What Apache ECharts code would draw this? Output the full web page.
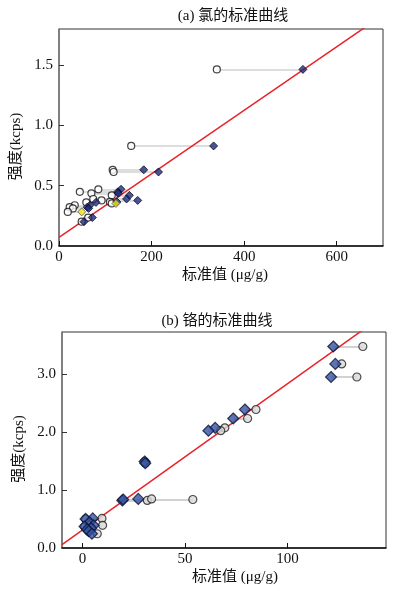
<!DOCTYPE html>
<html>
<head>
<meta charset="utf-8">
<script src="https://cdn.jsdelivr.net/npm/echarts@6.0.0/dist/echarts.min.js"></script>
<style>
  html, body { margin: 0; background: #fff; }
  #chart { width: 396px; height: 597px; }
</style>
</head>
<body>
<div id="chart"></div>
<script>
// (a) chlorine: standard value (circle) -> measured value (diamond), same intensity
const stdA = [341, 156, 116, 118, 85, 45, 70, 114, 74, 92, 59, 34, 23, 30, 63, 49, 110]
const measA = [527, 334, 183, 215, 134, 127, 128, 152, 146, 170, 80, 67, 61, 64, 72, 54, 125]
const intA = [1.465, 0.830, 0.632, 0.614, 0.470, 0.449, 0.437, 0.420, 0.390, 0.378, 0.362, 0.338, 0.322, 0.312, 0.236, 0.202, 0.366]
// yellow diamonds
const stdAY = [114, 19]
const measAY = [123, 49]
const intAY = [0.353, 0.283]
const fitA = [[0, 0.072], [700, 1.916]]
const xTicksA = [0, 200, 400, 600]
const yTicksA = [0, 0.5, 1.0, 1.5]

// (b) chromium
const measB = [122.3, 123.3, 121.2, 79.2, 73.5, 64.7, 61.4, 30.3, 30.6, 19.4, 19.8, 27.2, 5.0, 1.5, 3.4, 5.4, 1.0, 4.2, 2.3, 3.0, 4.6]
const stdB = [136.7, 126.4, 133.8, 84.6, 80.5, 69.4, 67.4, 30.3, 30.6, 31.6, 53.8, 33.7, 9.5, 1.5, 3.4, 9.8, 1.0, 4.2, 2.3, 3.0, 7.2]
const intB = [3.47, 3.17, 2.945, 2.385, 2.23, 2.07, 2.02, 1.49, 1.46, 0.82, 0.835, 0.845, 0.51, 0.50, 0.44, 0.39, 0.37, 0.34, 0.32, 0.29, 0.245]
const fitB = [[-10, 0.058], [148, 4.04]]
const xTicksB = [0, 50, 100]
const yTicksB = [0, 1.0, 2.0, 3.0]

const font = "'Liberation Serif', 'Noto Sans CJK SC', serif"

function pairs(xs1, xs2, ys) {
  return ys.map((y, i) => ({ coords: [[xs1[i], y], [xs2[i], y]] }))
}
function pts(xs, ys) {
  return ys.map((y, i) => [xs[i], y])
}

function xAxisCfg(idx, min, max, ticks, namePad) {
  return {
    type: 'value', gridIndex: idx, min: min, max: max,
    name: '标准值 (μg/g)', nameLocation: 'middle', nameGap: 22,
    nameTextStyle: { fontFamily: font, fontSize: 15, color: '#111', padding: namePad },
    axisLine: { onZero: false, lineStyle: { color: '#111', width: 1.5 } },
    axisTick: { inside: true, length: 5, customValues: ticks, lineStyle: { color: '#111' } },
    axisLabel: { customValues: ticks, margin: 4, fontFamily: font, fontSize: 15, color: '#111' },
    splitLine: { show: false }
  }
}
function yAxisCfg(idx, min, max, ticks, gap) {
  return {
    type: 'value', gridIndex: idx, min: min, max: max,
    name: '强度(kcps)', nameLocation: 'middle', nameGap: gap,
    nameTextStyle: { fontFamily: font, fontSize: 15, color: '#111', padding: [0, 18, 0, 0] },
    axisLine: { onZero: false, lineStyle: { color: '#777', width: 1.5 } },
    axisTick: { inside: true, length: 5, customValues: ticks, lineStyle: { color: '#333' } },
    axisLabel: { customValues: ticks, margin: 6, fontFamily: font, fontSize: 15, color: '#111',
      formatter: v => v.toFixed(1) },
    splitLine: { show: false }
  }
}

const chart = echarts.init(document.getElementById('chart'))
chart.setOption({
  animation: false,
  backgroundColor: '#fff',
  title: [
    { text: '(a) 氯的标准曲线', left: 228, top: 4, textAlign: 'center',
      textStyle: { fontFamily: font, fontSize: 15, fontWeight: 'normal', color: '#111' } },
    { text: '(b) 铬的标准曲线', left: 212, top: 309, textAlign: 'center',
      textStyle: { fontFamily: font, fontSize: 15, fontWeight: 'normal', color: '#111' } }
  ],
  grid: [
    { left: 59, top: 29, width: 324, height: 217, show: true, borderColor: '#333', borderWidth: 1 },
    { left: 62, top: 332, width: 324, height: 216, show: true, borderColor: '#333', borderWidth: 1 }
  ],
  xAxis: [
    xAxisCfg(0, 0, 700, xTicksA, [0, 0, 0, 8]),
    xAxisCfg(1, -10, 148, xTicksB, [0, 0, 0, 22])
  ],
  yAxis: [
    yAxisCfg(0, 0, 1.8, yTicksA, 34),
    yAxisCfg(1, 0, 3.72, yTicksB, 35)
  ],
  series: [
    // (a)
    { type: 'lines', coordinateSystem: 'cartesian2d', xAxisIndex: 0, yAxisIndex: 0, z: 1,
      data: pairs(stdA, measA, intA).concat(pairs(stdAY, measAY, intAY)),
      lineStyle: { color: '#d2d2d2', width: 1.5, opacity: 1 }, silent: true },
    { type: 'line', xAxisIndex: 0, yAxisIndex: 0, z: 2, data: fitA, showSymbol: false,
      lineStyle: { color: '#e8232b', width: 1.5 }, clip: true },
    { type: 'scatter', xAxisIndex: 0, yAxisIndex: 0, z: 3, data: pts(stdA, intA).concat(pts(stdAY, intAY)),
      symbol: 'circle', symbolSize: 7,
      itemStyle: { color: '#fff', borderColor: '#111', borderWidth: 1.2 } },
    { type: 'scatter', xAxisIndex: 0, yAxisIndex: 0, z: 4, data: pts(measA, intA),
      symbol: 'diamond', symbolSize: 8,
      itemStyle: { color: '#1d2a7c', borderColor: '#0a0a20', borderWidth: 1 } },
    { type: 'scatter', xAxisIndex: 0, yAxisIndex: 0, z: 4, data: pts(measAY, intAY),
      symbol: 'diamond', symbolSize: 8,
      itemStyle: { color: '#f3e40c', borderColor: '#555', borderWidth: 1 } },
    // (b)
    { type: 'lines', coordinateSystem: 'cartesian2d', xAxisIndex: 1, yAxisIndex: 1, z: 1,
      data: pairs(measB, stdB, intB),
      lineStyle: { color: '#d2d2d2', width: 2, opacity: 1 }, silent: true },
    { type: 'line', xAxisIndex: 1, yAxisIndex: 1, z: 2, data: fitB, showSymbol: false,
      lineStyle: { color: '#e8232b', width: 1.5 }, clip: true },
    { type: 'scatter', xAxisIndex: 1, yAxisIndex: 1, z: 3, data: pts(stdB, intB),
      symbol: 'circle', symbolSize: 8,
      itemStyle: { color: '#d9d9d9', borderColor: '#222', borderWidth: 1.2 } },
    { type: 'scatter', xAxisIndex: 1, yAxisIndex: 1, z: 4, data: pts(measB, intB),
      symbol: 'diamond', symbolSize: 11,
      itemStyle: { color: '#3552a3', borderColor: '#0d1433', borderWidth: 1.2 } }
  ]
})
</script>
</body>
</html>
